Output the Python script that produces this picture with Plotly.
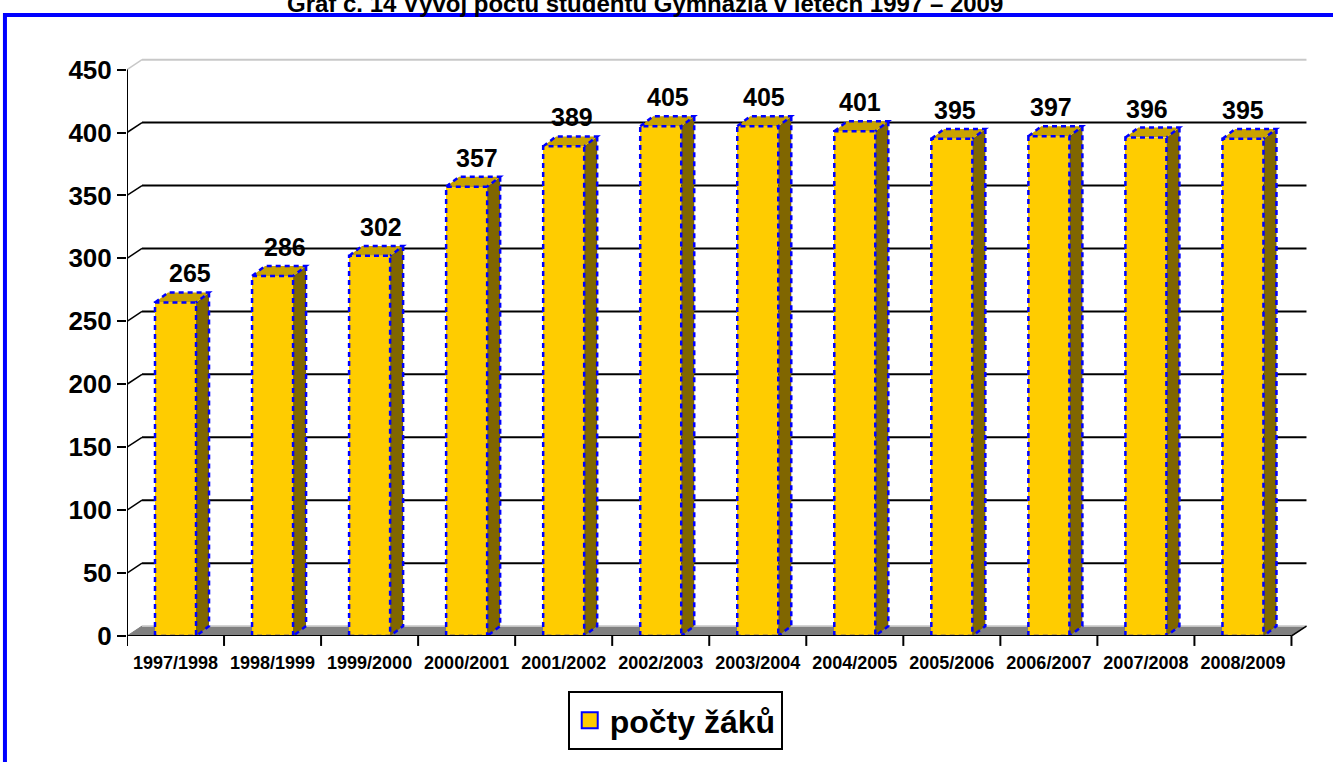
import plotly.graph_objects as go

# --- data ---
years = ["1997/1998", "1998/1999", "1999/2000", "2000/2001", "2001/2002", "2002/2003",
         "2003/2004", "2004/2005", "2005/2006", "2006/2007", "2007/2008", "2008/2009"]
students = [265, 286, 302, 357, 389, 405, 405, 401, 395, 397, 396, 395]
y_ticks = [0, 50, 100, 150, 200, 250, 300, 350, 400, 450]
series_name = "počty žáků"
title_text = "Graf č. 14 Vývoj počtu studentů Gymnázia v letech 1997 – 2009"

# --- geometry (pixels of the 1333x762 page) ---
W, H = 1333, 762
PX_CAT = 97.0            # pixels per category
PX_UNIT = 570.0 / 450    # pixels per student
LEFT, BOTTOM = 127, 640
X_RANGE = [-0.5, 11.66]
Y_RANGE = [0, 460]
plot_w = (X_RANGE[1] - X_RANGE[0]) * PX_CAT
plot_h = (Y_RANGE[1] - Y_RANGE[0]) * PX_UNIT
margin = dict(l=LEFT, r=W - LEFT - plot_w, t=BOTTOM - plot_h, b=H - BOTTOM, pad=0)

# 3D offsets in data units
WALL_DX, WALL_DY = 15 / PX_CAT, 10 / PX_UNIT
BAR_DX, BAR_DY = 13 / PX_CAT, 10 / PX_UNIT
BAR_W = 41 / PX_CAT

FRONT = "#FFCC00"
SIDE = "#806600"
TOP = "#C9A200"
EDGE = "#0000FF"
FONT = "Liberation Sans, Arial, sans-serif"


def px_to_paper(px, py):
    return (px - LEFT) / plot_w, (BOTTOM - py) / plot_h


shapes = []

# floor
x0, x1 = -0.5, 11.5
shapes.append(dict(type="path", xref="x", yref="y", layer="below",
                   path=f"M{x0},0 L{x1},0 L{x1 + WALL_DX},{WALL_DY} L{x0 + WALL_DX},{WALL_DY} Z",
                   fillcolor="#808080", line=dict(color="#808080", width=1)))
shapes.append(dict(type="line", xref="x", yref="y", layer="below",
                   x0=x0 + WALL_DX, x1=x1 + WALL_DX, y0=WALL_DY, y1=WALL_DY,
                   line=dict(color="#d8d8d8", width=1.5)))

# back wall gridlines + left wall diagonals
for v in y_ticks[1:]:
    col = "#c8c8c8" if v == y_ticks[-1] else "black"
    shapes.append(dict(type="line", xref="x", yref="y", layer="below",
                       x0=x0 + WALL_DX, x1=x1 + WALL_DX, y0=v + WALL_DY, y1=v + WALL_DY,
                       line=dict(color=col, width=2)))
    shapes.append(dict(type="line", xref="x", yref="y", layer="below",
                       x0=x0, x1=x0 + WALL_DX, y0=v, y1=v + WALL_DY,
                       line=dict(color=col, width=1.5)))

# bar side and top faces, dashed outlines
for i, v in enumerate(students):
    l, r = i - BAR_W / 2, i + BAR_W / 2
    shapes.append(dict(type="path", xref="x", yref="y", layer="below",
                       path=f"M{r},0 L{r + BAR_DX},{BAR_DY} L{r + BAR_DX},{v + BAR_DY} L{r},{v} Z",
                       fillcolor=SIDE, line=dict(width=0)))
    shapes.append(dict(type="path", xref="x", yref="y", layer="below",
                       path=f"M{l},{v} L{r},{v} L{r + BAR_DX},{v + BAR_DY} L{l + BAR_DX},{v + BAR_DY} Z",
                       fillcolor=TOP, line=dict(width=0)))
    shapes.append(dict(type="path", xref="x", yref="y", layer="above",
                       path=(f"M{l},0 L{l},{v} L{r},{v} L{r},0 Z "
                             f"M{l},{v} L{l + BAR_DX},{v + BAR_DY} L{r + BAR_DX},{v + BAR_DY} L{r},{v} "
                             f"M{r + BAR_DX},{v + BAR_DY} L{r + BAR_DX},{BAR_DY} L{r},0"),
                       line=dict(color=EDGE, width=2.5, dash="5px,4px")))

# axis lines drawn to stop at the category edge
shapes.append(dict(type="line", xref="x", yref="y", layer="above",
                   x0=x0, x1=x1, y0=0, y1=0, line=dict(color="black", width=2)))
shapes.append(dict(type="line", xref="x", yref="y", layer="above",
                   x0=x1, x1=x1 + WALL_DX, y0=0, y1=WALL_DY, line=dict(color="black", width=1.5)))
shapes.append(dict(type="line", xref="x", yref="y", layer="above",
                   x0=x0, x1=x0, y0=0, y1=y_ticks[-1], line=dict(color="black", width=2)))

# blue page frame
fx0, fy0 = px_to_paper(5, 15)
fx1, fy1 = px_to_paper(1345, 775)
shapes.append(dict(type="rect", xref="paper", yref="paper", x0=fx0, x1=fx1, y0=fy0, y1=fy1,
                   line=dict(color="#0000FF", width=4), layer="above"))

fig = go.Figure()
fig.add_trace(go.Bar(
    x=list(range(len(years))), y=students, width=BAR_W,
    marker=dict(color=FRONT, line=dict(width=0)),
    showlegend=False, hoverinfo="y"
))
# legend entry
fig.add_trace(go.Scatter(
    x=[None], y=[None], mode="markers", name=series_name,
    marker=dict(symbol="square", size=20, color=FRONT, line=dict(color=EDGE, width=2)),
))

annotations = []
for i, v in enumerate(students):
    annotations.append(dict(x=i, y=v, xref="x", yref="y", text=f"<b>{v}</b>", showarrow=False,
                            yshift=29, xshift=14 - 1.3 * i, yanchor="middle",
                            font=dict(family=FONT, size=25, color="black")))
tx, ty = px_to_paper(645, 3)
annotations.append(dict(x=tx, y=ty, xref="paper", yref="paper", text=f"<b>{title_text}</b>",
                        showarrow=False, xanchor="center", yanchor="middle",
                        font=dict(family="Liberation Sans Narrow, Arial Narrow, sans-serif",
                                  size=24, color="black")))

lx, ly = px_to_paper(675, 725)
fig.update_layout(
    width=W, height=H, margin=margin,
    paper_bgcolor="white", plot_bgcolor="white",
    bargap=0,
    xaxis=dict(range=X_RANGE, tickmode="array", tickvals=list(range(len(years))), ticktext=years,
               showgrid=False, zeroline=False, showline=False, ticks="", ticklabelstandoff=14,
               tickfont=dict(family=FONT, size=18, color="black", weight="bold"), fixedrange=True),
    yaxis=dict(range=Y_RANGE, tickmode="array", tickvals=y_ticks, showgrid=False, zeroline=False,
               showline=False, ticks="outside", ticklen=9, tickwidth=2, tickcolor="black",
               tickfont=dict(family=FONT, size=26, color="black", weight="bold"), fixedrange=True),
    shapes=shapes,
    annotations=annotations,
    showlegend=True,
    legend=dict(x=lx, y=ly, xanchor="center", yanchor="middle", orientation="h",
                bgcolor="white", bordercolor="black", borderwidth=2, itemsizing="trace",
                font=dict(family=FONT, size=32, color="black", weight="bold")),
)

# category boundary ticks on the x axis
for b in [k - 0.5 for k in range(len(years) + 1)]:
    fig.add_shape(type="line", xref="x", yref="paper", x0=b, x1=b,
                  y0=0, y1=-10 / plot_h, line=dict(color="black", width=2), layer="above")

# the page's default body margin would shift the figure by 8px
fig.write_html("out.html", config={"displayModeBar": False},
               post_script="document.body.style.margin = '0';")
